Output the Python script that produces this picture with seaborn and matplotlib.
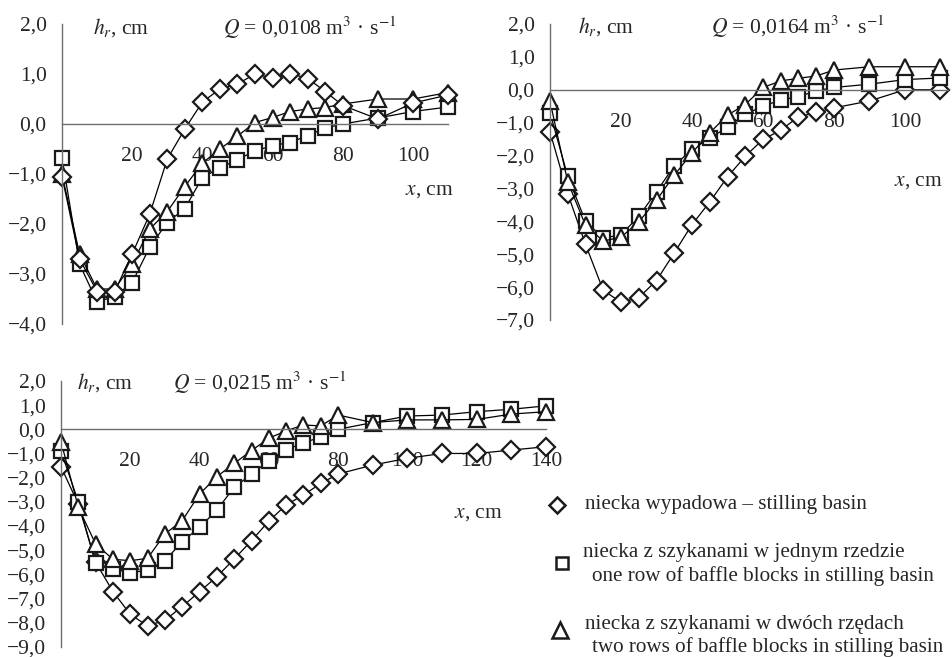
import numpy as np
import pandas as pd
import matplotlib
matplotlib.use("Agg")
import matplotlib.pyplot as plt
import seaborn as sns
from matplotlib.ticker import MultipleLocator, FuncFormatter

# ---------------- data ----------------
x_a = [0, 5, 10, 15, 20, 25, 30, 35, 40, 45, 50, 55, 60, 65, 70, 75, 80, 90, 100, 110]
x_c = [0, 5, 10, 15, 20, 25, 30, 35, 40, 45, 50, 55, 60, 65, 70, 75, 80, 90, 100, 110, 120, 130, 140]

# Q = 0.0108
p1_basin = [-1.05, -2.7, -3.35, -3.35, -2.6, -1.8, -0.7, -0.1, 0.44, 0.7, 0.8, 1.0, 0.92, 1.01, 0.91, 0.65, 0.37, 0.1, 0.42, 0.58]
p1_one   = [-0.67, -2.8, -3.56, -3.45, -3.17, -2.46, -1.97, -1.69, -1.07, -0.88, -0.71, -0.54, -0.43, -0.37, -0.23, -0.08, 0.0, 0.12, 0.25, 0.34]
p1_two   = [-1.0, -2.6, -3.3, -3.3, -2.8, -2.1, -1.75, -1.25, -0.78, -0.5, -0.24, 0.03, 0.13, 0.25, 0.3, 0.33, 0.4, 0.5, 0.5, 0.63]

# Q = 0.0164
p2_basin = [-1.28, -3.16, -4.7, -6.1, -6.46, -6.32, -5.8, -4.96, -4.1, -3.41, -2.65, -2.02, -1.51, -1.23, -0.82, -0.69, -0.55, -0.34, 0.0, 0.0]
p2_one   = [-0.7, -2.63, -4.0, -4.51, -4.41, -3.85, -3.1, -2.31, -1.81, -1.48, -1.13, -0.74, -0.5, -0.31, -0.21, -0.03, 0.07, 0.17, 0.31, 0.36]
p2_two   = [-0.35, -2.8, -4.12, -4.6, -4.48, -4.02, -3.36, -2.6, -1.92, -1.31, -0.77, -0.45, 0.07, 0.27, 0.35, 0.42, 0.6, 0.7, 0.7, 0.7]

# Q = 0.0215
p3_basin = [-1.55, -3.1, -5.5, -6.72, -7.66, -8.14, -7.9, -7.34, -6.72, -6.1, -5.37, -4.61, -3.8, -3.13, -2.72, -2.24, -1.85, -1.48, -1.2, -1.0, -1.0, -0.86, -0.72]
p3_one   = [-0.9, -3.0, -5.55, -5.78, -5.94, -5.83, -5.44, -4.65, -4.06, -3.34, -2.4, -1.86, -1.3, -0.86, -0.55, -0.33, 0.0, 0.28, 0.55, 0.59, 0.73, 0.83, 0.97]
p3_two   = [-0.51, -3.23, -4.75, -5.38, -5.44, -5.34, -4.33, -3.78, -2.68, -1.96, -1.41, -0.88, -0.37, -0.06, 0.18, 0.14, 0.59, 0.28, 0.39, 0.39, 0.41, 0.63, 0.73]

q_labels = ["0,0108", "0,0164", "0,0215"]
legend_pl = ["niecka wypadowa – stilling basin",
             "niecka z szykanami w jednym rzedzie",
             "niecka z szykanami w dwóch rzędach"]
legend_en = [None,
             "one row of baffle blocks in stilling basin",
             "two rows of baffle blocks in stilling basin"]

# ---------------- style ----------------
sns.set_style("white")
plt.rcParams["font.family"] = ["Liberation Serif", "DejaVu Serif"]
plt.rcParams["mathtext.fontset"] = "stix"
FS = 15.5
FS_LEG = 15.2
AX_COL = "#6e6e6e"
W, H = 952, 657

fig = plt.figure(figsize=(W / 100, H / 100), dpi=100)


def fmt(v, pos):
    s = f"{abs(v):.1f}".replace(".", ",")
    if v < -1e-9:
        return "\u2212" + s
    return s


def xfmt(v, pos):
    return "" if abs(v) < 1e-9 else f"{v:.0f}"


MK = dict(D=dict(marker="D", markersize=9.5),
          s=dict(marker="s", markersize=10.0),
          t=dict(marker="^", markersize=12.0))


def panel(x0, sx, xmax, ytop, ybot, ymin, ymax, xs, series, q, hx, qx, xlx, xly):
    ax = fig.add_axes([x0 / W, 1 - ybot / H, xmax * sx / W, (ybot - ytop) / H])
    ax.set_xlim(0, xmax)
    ax.set_ylim(ymin, ymax)
    ax.patch.set_alpha(0)
    for sp in ["top", "right"]:
        ax.spines[sp].set_visible(False)
    ax.spines["bottom"].set_position(("data", 0))
    for sp in ["left", "bottom"]:
        ax.spines[sp].set_color(AX_COL)
        ax.spines[sp].set_linewidth(1.0)
    ax.xaxis.set_major_locator(MultipleLocator(20))
    ax.xaxis.set_minor_locator(MultipleLocator(5))
    ax.yaxis.set_major_locator(MultipleLocator(1))
    ax.yaxis.set_minor_locator(MultipleLocator(0.2))
    ax.xaxis.set_major_formatter(FuncFormatter(xfmt))
    ax.yaxis.set_major_formatter(FuncFormatter(fmt))
    ax.tick_params(axis="x", which="major", direction="inout", length=9, width=1.0,
                   color=AX_COL, labelsize=FS, pad=12)
    ax.tick_params(axis="x", which="minor", direction="in", length=4, width=0.9, color=AX_COL)
    ax.tick_params(axis="y", which="major", direction="inout", length=10, width=1.0,
                   color=AX_COL, labelsize=FS, pad=6)
    ax.tick_params(axis="y", which="minor", direction="in", length=4, width=0.9, color=AX_COL)

    for key, ys in series:
        df = pd.DataFrame({"x": xs, "y": ys})
        sns.lineplot(data=df, x="x", y="y", ax=ax, color="black", linewidth=0.9,
                     mfc="white", mec="#1a1a1a", mew=1.6, clip_on=False,
                     estimator=None, errorbar=None, sort=False, **MK[key])
    ax.set_xlabel("")
    ax.set_ylabel("")
    ty = ymax - 0.08
    ax.text(hx, ty, r"$h_r$, cm", fontsize=FS, ha="left", va="center")
    ax.text(qx, ty, r"$Q$ = " + q + r" m$^{3}$ · s$^{-1}$", fontsize=FS, ha="left", va="center")
    ax.text(xlx, xly, r"$x$, cm", fontsize=FS, ha="right", va="center")
    return ax


panel(62, 3.51, 110, 24, 324, -4, 2, x_a,
      [("s", p1_one), ("t", p1_two), ("D", p1_basin)], q_labels[0], 8.7, 45.8, 111.7, -1.34)
panel(550, 3.55, 112, 24, 320, -7, 2, x_a,
      [("D", p2_basin), ("s", p2_one), ("t", p2_two)], q_labels[1], 7.9, 45.3, 110.7, -2.79)
panel(61, 3.464, 140, 381, 646.7, -9, 2, x_c,
      [("D", p3_basin), ("s", p3_one), ("t", p3_two)], q_labels[2], 4.6, 32.3, 127.6, -3.47)

# ---------------- legend (figure pixel coords) ----------------
lg = fig.add_axes([0, 0, 1, 1])
lg.set_xlim(0, W)
lg.set_ylim(H, 0)
lg.axis("off")
lg.patch.set_alpha(0)
leg_keys = ["D", "s", "t"]
leg_mk = [(557, 505), (562, 563), (560, 630)]
leg_txt = [[(585, 504)], [(583, 553), (592, 576)], [(585, 625), (592, 647)]]
leg_size = {"D": 8.5, "s": 9.0, "t": 11.0}
for i, key in enumerate(leg_keys):
    m = dict(MK[key])
    m["markersize"] = leg_size[key]
    lg.plot([leg_mk[i][0]], [leg_mk[i][1]], linestyle="none", mfc="white",
            mec="#1a1a1a", mew=1.8, **m)
    lines = [legend_pl[i]] + ([legend_en[i]] if legend_en[i] else [])
    for (tx, ty), s in zip(leg_txt[i], lines):
        lg.text(tx, ty, s, fontsize=FS_LEG, ha="left", va="center")

fig.savefig("out.png", dpi=100)
